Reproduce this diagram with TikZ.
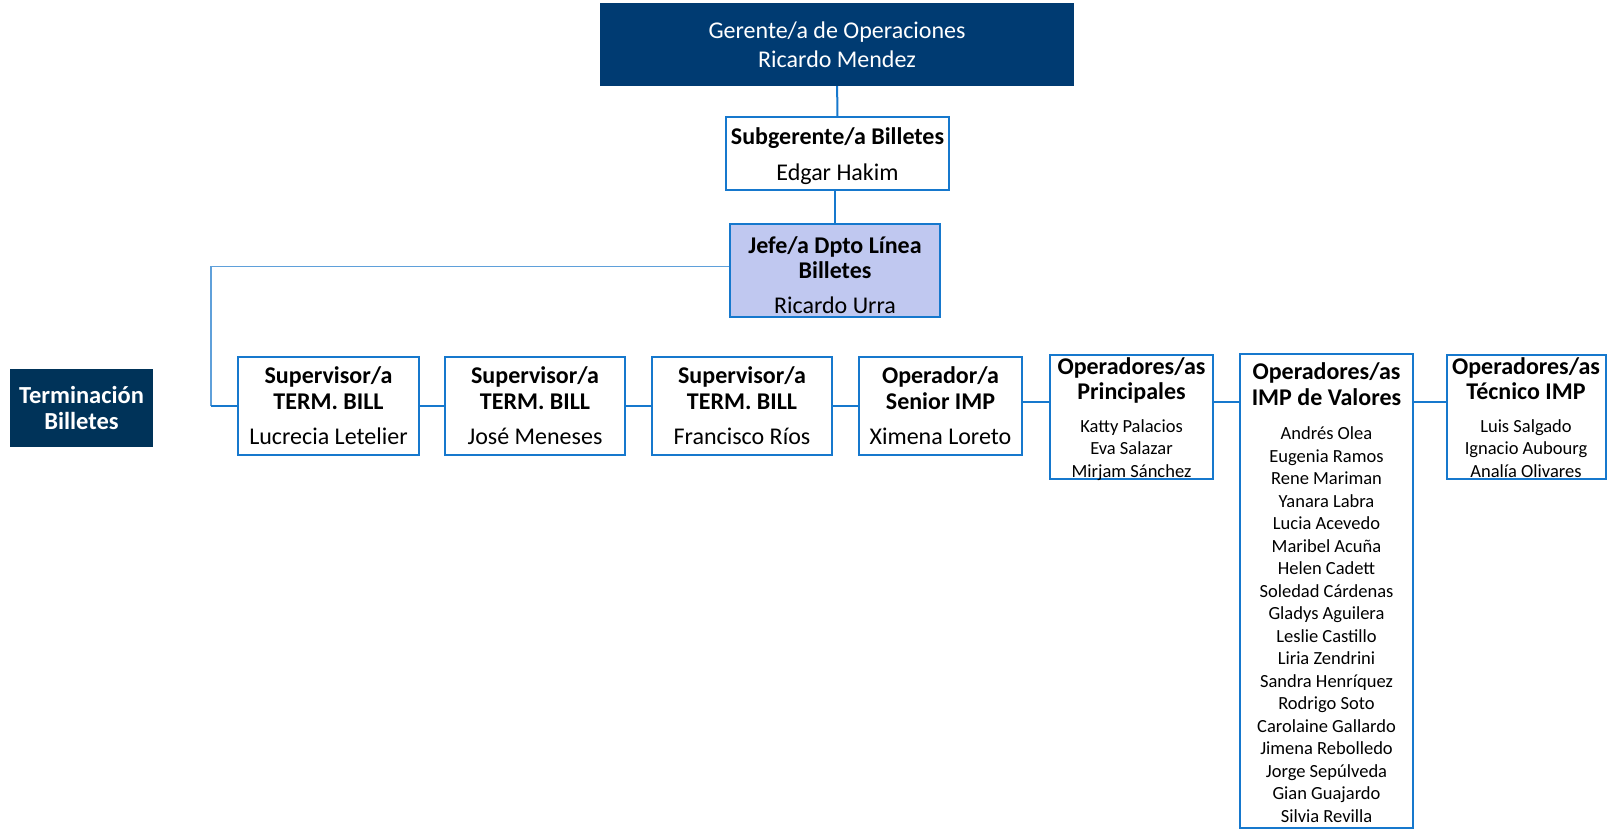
\documentclass[tikz,border=0pt]{standalone}
\usepackage{fontspec}
\setmainfont{Carlito}
\usetikzlibrary{positioning}
\definecolor{navy}{RGB}{0,59,114}
\definecolor{termnavy}{RGB}{0,51,89}
\definecolor{boxblue}{RGB}{22,120,205}
\definecolor{lineblue}{RGB}{95,160,218}
\definecolor{jefefill}{RGB}{192,200,240}
\tikzstyle{unit}=[draw=boxblue,line width=2pt,fill=white,align=center,inner sep=0pt,
                font=\fontsize{24}{25.5}\selectfont]
\tikzstyle{head}=[fill=navy,text=white,align=center,inner sep=0pt,
                font=\fontsize{24}{29}\selectfont]
\tikzstyle{tight}=[text height=122pt,text depth=2pt]
\tikzstyle{link}=[draw=boxblue,line width=2pt]
\tikzstyle{trunk}=[draw=lineblue,line width=1.5pt]
\newcommand{\nm}[1]{{\fontsize{18.5}{22.5}\selectfont #1}}
\newcommand{\lift}[1]{\rule{0pt}{#1}}

\begin{document}
\begin{tikzpicture}[x=1pt,y=-1pt]
        \useasboundingbox (0,0) rectangle (1607,830);
        \node [head,minimum width=474pt,minimum height=83pt] (gerente) at (837,44.5) {Gerente/a de Operaciones\\Ricardo Mendez};
        \node [unit,minimum width=223pt,minimum height=73pt] (subger) at (837.5,153.5) {\lift{22pt}\textbf{Subgerente/a Billetes}\\[11pt]Edgar Hakim};
        \draw [link] (gerente) -- (subger);
        \node [unit,fill=jefefill,minimum width=210pt,minimum height=93pt] (jefe) at (835,270.5) {\lift{26pt}\textbf{Jefe/a Dpto Línea}\\\textbf{Billetes}\\[9pt]Ricardo Urra};
        \draw [link] (jefe.north) -- (jefe.north |- subger.south);
        \node [head,fill=termnavy,font=\bfseries\fontsize{24.5}{26.5}\selectfont,minimum width=143pt,minimum height=78pt] (term) at (81.5,408) {Terminación\\Billetes};
        % supervisores
        \node [unit,minimum width=181pt,minimum height=98pt] (sup1) at (328.5,406) {\textbf{Supervisor/a}\\\textbf{TERM. BILL}\\[10pt]Lucrecia Letelier};
        \node [unit,minimum width=180pt,minimum height=98pt,right=24pt of sup1] (sup2) {\textbf{Supervisor/a}\\\textbf{TERM. BILL}\\[10pt]José Meneses};
        \node [unit,minimum width=180pt,minimum height=98pt,right=25pt of sup2] (sup3) {\textbf{Supervisor/a}\\\textbf{TERM. BILL}\\[10pt]Francisco Ríos};
        \node [unit,minimum width=163pt,minimum height=98pt,right=25pt of sup3] (op) {\textbf{Operador/a}\\\textbf{Senior IMP}\\[10pt]Ximena Loreto};
        % operadores
        \node [unit,tight,minimum width=163pt,minimum height=124pt] (princ) at (1131.5,417) {\textbf{Operadores/as}\\\textbf{Principales}\\[7pt]\nm{Katty Palacios}\\[-3pt]\nm{Eva Salazar}\\[-3pt]\nm{Mirjam Sánchez}};
        \node [unit,minimum width=173pt,minimum height=474pt] (imp) at (1326.5,591) {\lift{20pt}\textbf{Operadores/as}\\\textbf{IMP de Valores}\\[9pt]\nm{Andrés Olea}\\[-3pt]\nm{Eugenia Ramos}\\[-3pt]\nm{Rene Mariman}\\[-3pt]\nm{Yanara Labra}\\[-3pt]\nm{Lucia Acevedo}\\[-3pt]\nm{Maribel Acuña}\\[-3pt]\nm{Helen Cadett}\\[-3pt]\nm{Soledad Cárdenas}\\[-3pt]\nm{Gladys Aguilera}\\[-3pt]\nm{Leslie Castillo}\\[-3pt]\nm{Liria Zendrini}\\[-3pt]\nm{Sandra Henríquez}\\[-3pt]\nm{Rodrigo Soto}\\[-3pt]\nm{Carolaine Gallardo}\\[-3pt]\nm{Jimena Rebolledo}\\[-3pt]\nm{Jorge Sepúlveda}\\[-3pt]\nm{Gian Guajardo}\\[-3pt]\nm{Silvia Revilla}};
        \node [unit,tight,minimum width=159pt,minimum height=124pt] (tec) at (1526,417) {\textbf{Operadores/as}\\\textbf{Técnico IMP}\\[7pt]\nm{Luis Salgado}\\[-3pt]\nm{Ignacio Aubourg}\\[-3pt]\nm{Analía Olivares}};
        % lineas
        \coordinate (bend) at (211,266.5);
        \coordinate (row) at (0,402);
        \draw [trunk] (jefe.west |- bend) -| (bend |- sup1.west);
        \draw [link] (bend |- sup1.west) -- (sup1.west);
        \draw [link] (sup1) -- (sup2);
        \draw [link] (sup2) -- (sup3);
        \draw [link] (sup3) -- (op);
        \draw [link] (op.east |- row) -- (princ.west |- row);
        \draw [link] (princ.east |- row) -- (imp.west |- row);
        \draw [link] (imp.east |- row) -- (tec.west |- row);
\end{tikzpicture}
\end{document}
